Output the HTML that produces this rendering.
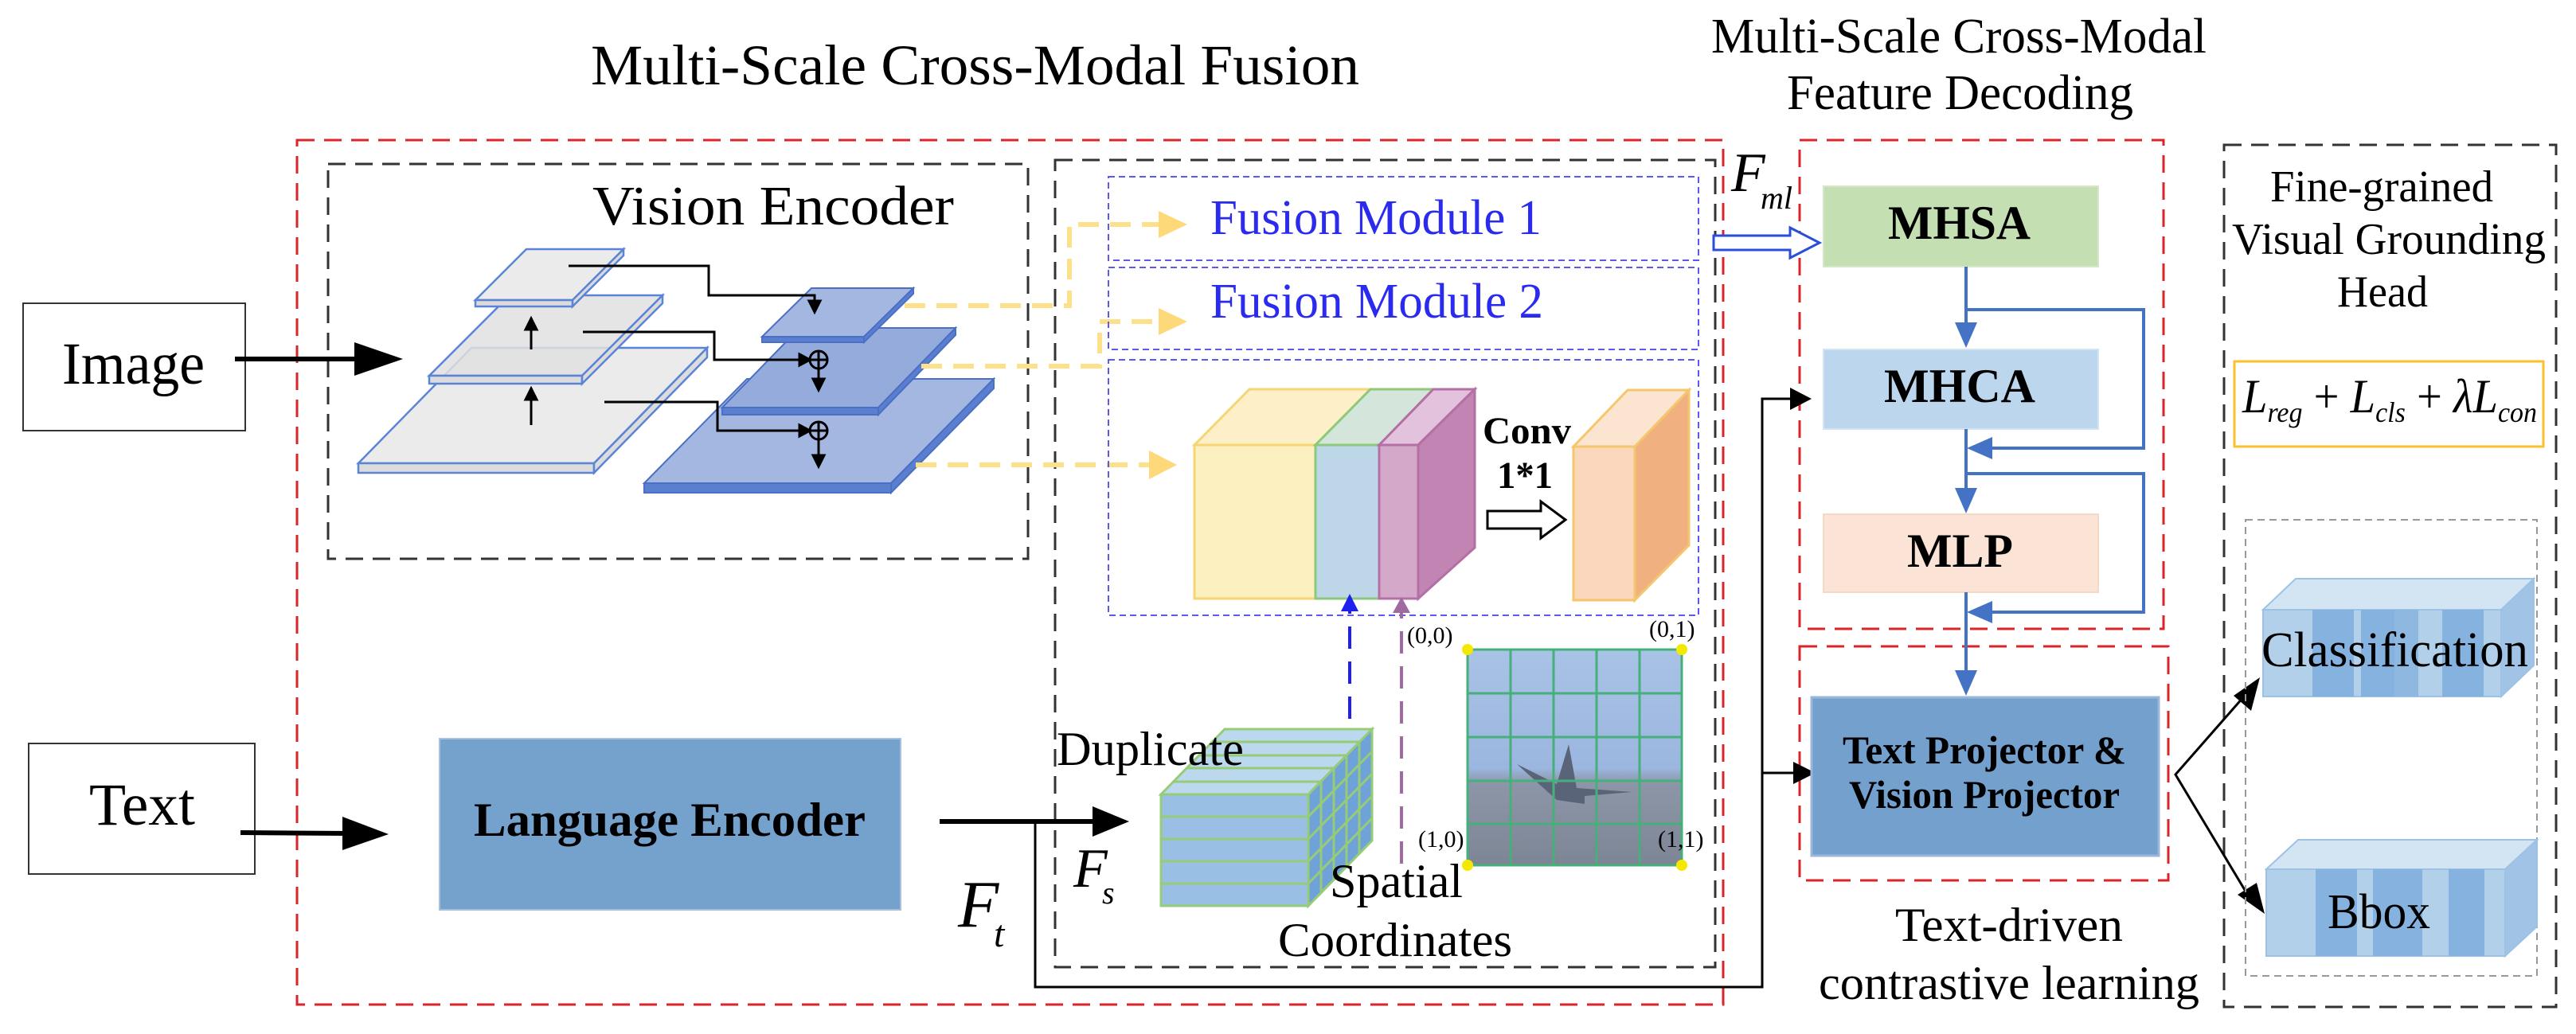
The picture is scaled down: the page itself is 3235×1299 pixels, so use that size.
<!DOCTYPE html>
<html><head><meta charset="utf-8"><style>html,body{margin:0;padding:0;background:#fff}svg{display:block;font-family:"Liberation Serif",serif}</style></head>
<body>
<svg width="3235" height="1299" viewBox="0 0 3235 1299" xmlns="http://www.w3.org/2000/svg" style="font-family:'Liberation Serif',serif">
<rect width="3235" height="1299" fill="#fff"/>

<text x="742" y="106" font-size="72" textLength="965" lengthAdjust="spacingAndGlyphs">Multi-Scale Cross-Modal Fusion</text>
<text x="2149" y="66" font-size="62" textLength="622" lengthAdjust="spacingAndGlyphs">Multi-Scale Cross-Modal</text>
<text x="2244" y="137" font-size="62" textLength="435" lengthAdjust="spacingAndGlyphs">Feature Decoding</text>

<rect x="373" y="176" width="1791" height="1086" fill="none" stroke="#d9252a" stroke-width="3" stroke-dasharray="22,12"/>
<rect x="412" y="206" width="879" height="496" fill="none" stroke="#333" stroke-width="3" stroke-dasharray="22,12"/>
<rect x="1325" y="201" width="829" height="1014" fill="none" stroke="#333" stroke-width="3" stroke-dasharray="22,12"/>
<rect x="2260" y="176" width="457" height="614" fill="none" stroke="#d9252a" stroke-width="3" stroke-dasharray="22,12"/>
<rect x="2260" y="812" width="463" height="294" fill="none" stroke="#d9252a" stroke-width="3" stroke-dasharray="22,12"/>
<rect x="2793" y="182" width="417" height="1083" fill="none" stroke="#333" stroke-width="3" stroke-dasharray="22,12"/>

<rect x="29" y="381" width="279" height="160" fill="#fff" stroke="#333" stroke-width="2"/>
<text x="78" y="482" font-size="75" textLength="179" lengthAdjust="spacingAndGlyphs">Image</text>
<line x1="295" y1="451" x2="450" y2="451" stroke="#000" stroke-width="6"/>
<path d="M445,430 L506,451 L445,472 z" fill="#000"/>
<rect x="36" y="934" width="284" height="164" fill="#fff" stroke="#333" stroke-width="2"/>
<text x="112" y="1036" font-size="75" textLength="133" lengthAdjust="spacingAndGlyphs">Text</text>
<line x1="302" y1="1046" x2="440" y2="1047" stroke="#000" stroke-width="6"/>
<path d="M430,1026 L488,1048 L430,1068 z" fill="#000"/>

<text x="744" y="282" font-size="70" textLength="454" lengthAdjust="spacingAndGlyphs">Vision Encoder</text>
<g stroke="#5b84d6" stroke-width="2.5" fill="#ebebeb">
 <polygon points="450,582 746,582 888,437 592,437"/>
 <rect x="450" y="582" width="296" height="12" fill="#dcdcdc"/>
 <polygon points="746,582 888,437 888,449 746,594" fill="#dcdcdc"/>
 <polygon points="539,472 731,472 832,371 640,371" fill="rgba(225,225,225,0.85)"/>
 <rect x="539" y="472" width="192" height="10" fill="#dcdcdc"/>
 <polygon points="731,472 832,371 832,381 731,482" fill="#dcdcdc"/>
 <polygon points="597,377 719,377 783,313 661,313"/>
 <rect x="597" y="377" width="122" height="8" fill="#dcdcdc"/>
 <polygon points="719,377 783,313 783,321 719,385" fill="#dcdcdc"/>
</g>
<g stroke="#000" stroke-width="3" fill="none">
 <line x1="667" y1="439" x2="667" y2="410"/><path d="M660,414 L667,400 L674,414 z" fill="#000"/>
 <line x1="667" y1="534" x2="667" y2="498"/><path d="M660,502 L667,488 L674,502 z" fill="#000"/>
</g>
<g stroke="#4a6fc5" stroke-width="2" fill="#a3b7e0">
 <polygon points="809,607 1119,607 1248,476 938,476"/>
 <rect x="809" y="607" width="310" height="12" fill="#5b7fcf"/>
 <polygon points="1119,607 1248,476 1248,488 1119,619" fill="#5b7fcf"/>
 <polygon points="907,512 1103,512 1200,412 1004,412" fill="#94abdc"/>
 <rect x="907" y="512" width="196" height="9" fill="#5b7fcf"/>
 <polygon points="1103,512 1200,412 1200,421 1103,521" fill="#5b7fcf"/>
 <polygon points="957,423 1085,423 1147,362 1019,362"/>
 <rect x="957" y="423" width="128" height="7" fill="#5b7fcf"/>
 <polygon points="1085,423 1147,362 1147,369 1085,430" fill="#5b7fcf"/>
</g>
<g stroke="#000" stroke-width="3" fill="none">
 <path d="M714,334 H890 V371 H1023 V380"/>
 <path d="M1016,378 L1023,392 L1030,378 z" fill="#000"/>
 <path d="M732,417 H897 V452 H1010"/>
 <path d="M1004,445 L1017,452 L1004,459 z" fill="#000"/>
 <circle cx="1028" cy="452" r="11"/><line x1="1017" y1="452" x2="1039" y2="452"/><line x1="1028" y1="441" x2="1028" y2="478"/>
 <path d="M1021,476 L1028,490 L1035,476 z" fill="#000"/>
 <path d="M759,505 H901 V541 H1010"/>
 <path d="M1004,534 L1017,541 L1004,548 z" fill="#000"/>
 <circle cx="1028" cy="541" r="11"/><line x1="1017" y1="541" x2="1039" y2="541"/><line x1="1028" y1="530" x2="1028" y2="574"/>
 <path d="M1021,572 L1028,586 L1035,572 z" fill="#000"/>
</g>

<g stroke="#fde08a" stroke-width="6" fill="none" stroke-dasharray="26,14">
 <path d="M1136,384 H1343 V282 H1460"/>
 <path d="M1157,460 H1381 V404 H1460"/>
 <path d="M1150,584 H1450"/>
</g>
<g fill="#fdd97a">
 <path d="M1455,265 L1491,282 L1455,299 z"/>
 <path d="M1455,387 L1491,404 L1455,421 z"/>
 <path d="M1443,566 L1478,584 L1443,602 z"/>
</g>

<g fill="none" stroke="#5a5af0" stroke-width="2" stroke-dasharray="8,5">
 <rect x="1392" y="222" width="741" height="105"/>
 <rect x="1392" y="336" width="741" height="103"/>
 <rect x="1392" y="452" width="741" height="321"/>
</g>
<text x="1520" y="294" font-size="62" fill="#2b2bf0" textLength="416" lengthAdjust="spacingAndGlyphs">Fusion Module 1</text>
<text x="1520" y="399" font-size="62" fill="#2b2bf0" textLength="418" lengthAdjust="spacingAndGlyphs">Fusion Module 2</text>

<g stroke-width="3">
 <polygon points="1500,559 1652,559 1721,489 1569,489" fill="#fdf0c8" stroke="#f6d672"/>
 <rect x="1500" y="559" width="152" height="193" fill="#fdf0c0" stroke="#f6d672"/>
 <polygon points="1652,559 1732,559 1800,489 1721,489" fill="#d4e6dc" stroke="#8cc97a"/>
 <rect x="1652" y="559" width="80" height="193" fill="#bdd7e8" stroke="#8cc97a"/>
 <polygon points="1732,559 1781,559 1852,489 1800,489" fill="#e2c2dc" stroke="#b46fa4"/>
 <rect x="1732" y="559" width="49" height="193" fill="#d4a8c8" stroke="#b46fa4"/>
 <polygon points="1781,559 1852,489 1852,688 1781,752" fill="#c184b3" stroke="#b46fa4"/>
</g>
<text x="1862" y="557" font-size="48" font-weight="bold" textLength="111" lengthAdjust="spacingAndGlyphs">Conv</text>
<text x="1880" y="613" font-size="48" font-weight="bold" textLength="70" lengthAdjust="spacingAndGlyphs">1*1</text>
<path d="M1868,642 H1935 V630 L1966,653 L1935,676 V664 H1868 z" fill="#fff" stroke="#000" stroke-width="3"/>
<g stroke="#f6c66e" stroke-width="3">
 <polygon points="1976,561 2053,561 2121,490 2044,490" fill="#fbe4d0"/>
 <rect x="1976" y="561" width="77" height="193" fill="#f9d6bc"/>
 <polygon points="2053,561 2121,490 2121,685 2053,754" fill="#f1b080"/>
</g>

<line x1="1695" y1="903" x2="1695" y2="765" stroke="#2020ee" stroke-width="4" stroke-dasharray="28,16"/>
<path d="M1684,768 L1695,746 L1706,768 z" fill="#2020ee"/>
<line x1="1760" y1="1085" x2="1760" y2="768" stroke="#a06aa0" stroke-width="4" stroke-dasharray="28,16"/>
<path d="M1749,770 L1760,750 L1771,770 z" fill="#a06aa0"/>

<g stroke="#96cc78" stroke-width="3">
 <polygon points="1458,998 1643,998 1723,916 1538,916" fill="#bcd8ee"/>
 <rect x="1458" y="998" width="185" height="140" fill="#99bfe4"/>
 <polygon points="1643,998 1723,916 1723,1056 1643,1138" fill="#6fa2d8"/>
</g>
<g stroke="#96cc78" stroke-width="3" fill="none">
 <line x1="1458" y1="1026" x2="1643" y2="1026"/><line x1="1458" y1="1054" x2="1643" y2="1054"/><line x1="1458" y1="1082" x2="1643" y2="1082"/><line x1="1458" y1="1110" x2="1643" y2="1110"/>
 <line x1="1474" y1="982" x2="1659" y2="982"/><line x1="1490" y1="965" x2="1675" y2="965"/><line x1="1506" y1="949" x2="1691" y2="949"/><line x1="1522" y1="932" x2="1707" y2="932"/>
 <line x1="1659" y1="982" x2="1659" y2="1122"/><line x1="1675" y1="965" x2="1675" y2="1105"/><line x1="1691" y1="949" x2="1691" y2="1089"/><line x1="1707" y1="932" x2="1707" y2="1072"/>
 <line x1="1643" y1="1026" x2="1723" y2="944"/><line x1="1643" y1="1054" x2="1723" y2="972"/><line x1="1643" y1="1082" x2="1723" y2="1000"/><line x1="1643" y1="1110" x2="1723" y2="1028"/>
</g>
<text x="1327" y="961" font-size="60" textLength="235" lengthAdjust="spacingAndGlyphs">Duplicate</text>
<text x="1670" y="1127" font-size="60" textLength="167" lengthAdjust="spacingAndGlyphs">Spatial</text>
<text x="1605" y="1201" font-size="60" textLength="294" lengthAdjust="spacingAndGlyphs">Coordinates</text>

<defs><linearGradient id="sky" x1="0" y1="0" x2="0" y2="1">
<stop offset="0" stop-color="#a9c2e6"/><stop offset="0.55" stop-color="#9bb6df"/><stop offset="0.62" stop-color="#8d96a8"/><stop offset="1" stop-color="#7d8595"/></linearGradient></defs>
<rect x="1843" y="816" width="269" height="271" fill="url(#sky)"/>
<path d="M1905,960 L1955,985 L1970,935 L1980,990 L2050,995 L1990,1000 L1990,1010 L1955,1005 z" fill="#5a6478"/>
<g stroke="#45b07a" stroke-width="3" fill="none">
 <rect x="1843" y="816" width="269" height="271"/>
 <line x1="1897" y1="816" x2="1897" y2="1087"/><line x1="1951" y1="816" x2="1951" y2="1087"/><line x1="2005" y1="816" x2="2005" y2="1087"/><line x1="2059" y1="816" x2="2059" y2="1087"/>
 <line x1="1843" y1="871" x2="2112" y2="871"/><line x1="1843" y1="926" x2="2112" y2="926"/><line x1="1843" y1="981" x2="2112" y2="981"/><line x1="1843" y1="1035" x2="2112" y2="1035"/>
</g>
<g fill="#f5e800"><circle cx="1843" cy="816" r="7"/><circle cx="2112" cy="816" r="7"/><circle cx="1843" cy="1087" r="7"/><circle cx="2112" cy="1087" r="7"/></g>
<g font-size="30"><text x="1767" y="808">(0,0)</text><text x="2071" y="800">(0,1)</text><text x="1781" y="1064">(1,0)</text><text x="2082" y="1064">(1,1)</text></g>

<rect x="552" y="928" width="579" height="215" fill="#75a1cd" stroke="#a7c0de" stroke-width="2"/>
<text x="595" y="1050" font-size="60" font-weight="bold" textLength="492" lengthAdjust="spacingAndGlyphs">Language Encoder</text>
<line x1="1180" y1="1032" x2="1380" y2="1032" stroke="#000" stroke-width="6"/>
<path d="M1372,1013 L1418,1032 L1372,1051 z" fill="#000"/>
<path d="M1300,1034 V1240 H2213 V501 H2260" fill="none" stroke="#000" stroke-width="3"/>
<path d="M2248,487 L2275,501 L2248,515 z" fill="#000"/>
<path d="M2213,971 H2262" fill="none" stroke="#000" stroke-width="3"/>
<path d="M2252,957 L2280,971 L2252,985 z" fill="#000"/>

<text x="1203" y="1164" font-size="84" font-style="italic">F</text>
<text x="1248" y="1189" font-size="48" font-style="italic">t</text>
<text x="1348" y="1114" font-size="70" font-style="italic">F</text>
<text x="1384" y="1135" font-size="40" font-style="italic">s</text>
<text x="2174" y="240" font-size="70" font-style="italic">F</text>
<text x="2211" y="262" font-size="40" font-style="italic">ml</text>
<path d="M2152,296 H2248 V286 L2285,305 L2248,324 V314 H2152 z" fill="#fff" stroke="#2a4ed8" stroke-width="3"/>

<rect x="2290" y="234" width="345" height="101" fill="#c4e0b2" stroke="#d5e7c8" stroke-width="2"/>
<text x="2371" y="300" font-size="60" font-weight="bold" textLength="179" lengthAdjust="spacingAndGlyphs">MHSA</text>
<rect x="2290" y="439" width="345" height="100" fill="#bcd6ee" stroke="#d2e3f3" stroke-width="2"/>
<text x="2366" y="505" font-size="60" font-weight="bold" textLength="190" lengthAdjust="spacingAndGlyphs">MHCA</text>
<rect x="2290" y="646" width="345" height="98" fill="#fbe3d5" stroke="#f3d9c8" stroke-width="2"/>
<text x="2395" y="712" font-size="60" font-weight="bold" textLength="133" lengthAdjust="spacingAndGlyphs">MLP</text>
<g stroke="#4472c4" stroke-width="4" fill="none">
 <path d="M2469,335 V420"/><path d="M2469,389 H2692 V563 H2490"/>
 <path d="M2469,539 V628"/><path d="M2469,595 H2692 V769 H2490"/>
 <path d="M2469,744 V858"/>
</g>
<g fill="#4472c4">
 <path d="M2455,405 L2469,437 L2483,405 z"/>
 <path d="M2502,549 L2470,563 L2502,577 z"/>
 <path d="M2455,613 L2469,645 L2483,613 z"/>
 <path d="M2502,755 L2470,769 L2502,783 z"/>
 <path d="M2455,842 L2469,874 L2483,842 z"/>
</g>
<rect x="2275" y="876" width="436" height="199" fill="#74a0ce" stroke="#9ab6da" stroke-width="3"/>
<text x="2314" y="959" font-size="50" font-weight="bold" textLength="356" lengthAdjust="spacingAndGlyphs">Text Projector &amp;</text>
<text x="2322" y="1015" font-size="50" font-weight="bold" textLength="340" lengthAdjust="spacingAndGlyphs">Vision Projector</text>
<text x="2380" y="1182" font-size="60" textLength="286" lengthAdjust="spacingAndGlyphs">Text-driven</text>
<text x="2284" y="1255" font-size="60" textLength="478" lengthAdjust="spacingAndGlyphs">contrastive learning</text>

<path d="M2818,875 L2732,973 L2825,1128" fill="none" stroke="#000" stroke-width="3"/>
<path d="M2838,851 L2827,893 L2805,874 z" fill="#000"/>
<path d="M2844,1148 L2810,1124 L2834,1109 z" fill="#000"/>

<text x="2851" y="253" font-size="56" textLength="280" lengthAdjust="spacingAndGlyphs">Fine-grained</text>
<text x="2803" y="319" font-size="56" textLength="394" lengthAdjust="spacingAndGlyphs">Visual Grounding</text>
<text x="2935" y="385" font-size="56" textLength="114" lengthAdjust="spacingAndGlyphs">Head</text>
<rect x="2806" y="454" width="388" height="107" fill="#fff" stroke="#fbc02d" stroke-width="3"/>
<text x="2816" y="518" font-size="60" font-style="italic" textLength="370" lengthAdjust="spacingAndGlyphs">L<tspan font-size="36" dy="12">reg</tspan><tspan dy="-12" font-style="normal"> + </tspan>L<tspan font-size="36" dy="12">cls</tspan><tspan dy="-12" font-style="normal"> + </tspan>λL<tspan font-size="36" dy="12">con</tspan></text>
<rect x="2820" y="653" width="366" height="573" fill="none" stroke="#999" stroke-width="2" stroke-dasharray="9,6"/>

<g stroke="#9cc2e6" stroke-width="2">
 <polygon points="2842,766 3141,766 3182,727 2883,727" fill="#d3e4f3"/>
 <rect x="2842" y="766" width="299" height="109" fill="#b3d0eb"/>
 <polygon points="3141,766 3182,727 3182,836 3141,875" fill="#a0c3e6"/>
 <rect x="2904" y="766" width="52" height="109" fill="#85b2de" stroke="none"/>
 <rect x="2965" y="766" width="42" height="109" fill="#85b2de" stroke="none"/>
 <rect x="3007" y="766" width="30" height="109" fill="#8fb8e0" stroke="none"/>
 <rect x="3067" y="766" width="52" height="109" fill="#85b2de" stroke="none"/>
</g>
<text x="2840" y="837" font-size="62" textLength="335" lengthAdjust="spacingAndGlyphs">Classification</text>
<g stroke="#9cc2e6" stroke-width="2">
 <polygon points="2846,1092 3146,1092 3186,1055 2886,1055" fill="#d3e4f3"/>
 <rect x="2846" y="1092" width="300" height="109" fill="#b3d0eb"/>
 <polygon points="3146,1092 3186,1055 3186,1164 3146,1201" fill="#a0c3e6"/>
 <rect x="2908" y="1092" width="52" height="109" fill="#85b2de" stroke="none"/>
 <rect x="2980" y="1092" width="62" height="109" fill="#85b2de" stroke="none"/>
 <rect x="3075" y="1092" width="45" height="109" fill="#85b2de" stroke="none"/>
</g>
<text x="2923" y="1166" font-size="62" textLength="129" lengthAdjust="spacingAndGlyphs">Bbox</text>
</svg>
</body></html>
